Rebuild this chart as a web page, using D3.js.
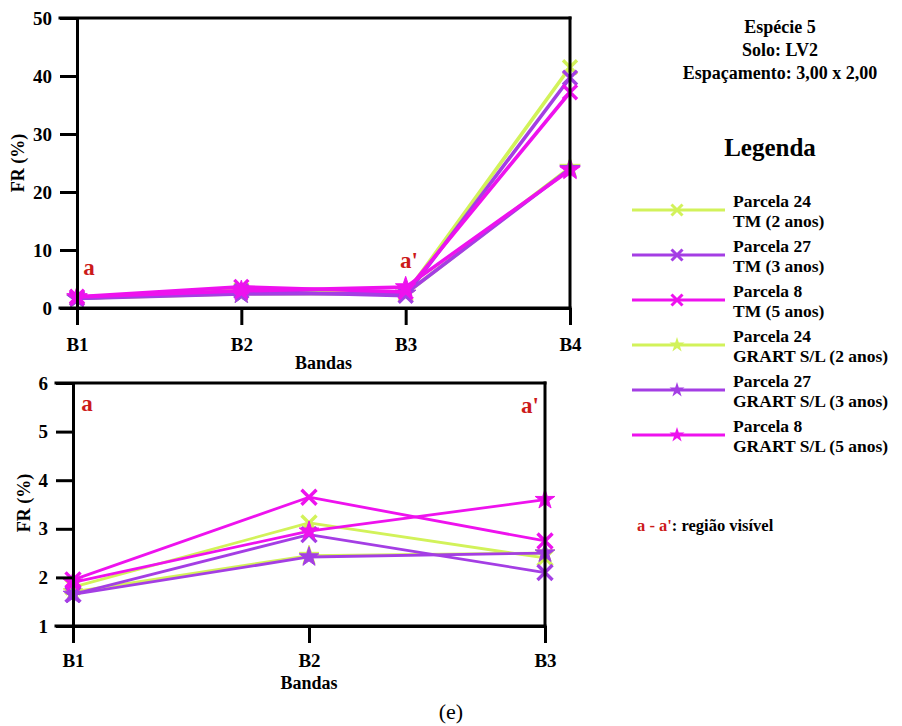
<!DOCTYPE html>
<html>
<head>
<meta charset="utf-8">
<script src="https://cdn.jsdelivr.net/npm/d3@7"></script>
<style>
  html, body { margin: 0; padding: 0; background: #fff; }
  svg { display: block; }
  text { font-family: "Liberation Serif", "Times New Roman", serif; }
</style>
</head>
<body>
<svg id="chart" width="902" height="726"></svg>
<script>
// ---------- data ----------
const bandsTop = ["B1", "B2", "B3", "B4"];
const bandsBottom = ["B1", "B2", "B3"];
const yTicksTop = [0, 10, 20, 30, 40, 50];
const yTicksBottom = [1, 2, 3, 4, 5, 6];

const seriesNames = ["Parcela 24", "Parcela 27", "Parcela 8", "Parcela 24", "Parcela 27", "Parcela 8"];
const seriesSub = ["TM (2 anos)", "TM (3 anos)", "TM (5 anos)", "GRART S/L (2 anos)", "GRART S/L (3 anos)", "GRART S/L (5 anos)"];
const seriesMarker = ["x", "x", "x", "star", "star", "star"];
const seriesColor = ["#d2f25a", "#a43ee4", "#ee12ee", "#d2f25a", "#a43ee4", "#ee12ee"];

const p24TM = [1.80, 3.12, 2.40, 41.5];
const p27TM = [1.65, 2.88, 2.10, 39.7];
const p8TM  = [1.95, 3.65, 2.75, 37.2];
const p24GR = [1.70, 2.45, 2.50, 24.2];
const p27GR = [1.65, 2.42, 2.50, 24.0];
const p8GR  = [1.90, 2.95, 3.60, 23.8];
const seriesValues = [p24TM, p27TM, p8TM, p24GR, p27GR, p8GR];
// drawing order: lime first, then purple, magenta on top
const drawOrder = [0, 3, 1, 4, 2, 5];

const infoLines = ["Espécie 5", "Solo: LV2", "Espaçamento: 3,00 x 2,00"];

// ---------- drawing ----------
const svg = d3.select("#chart");
const RED = "#cc1a1a";
const FONT = "Liberation Serif, Times New Roman, serif";

function markerPath(type, s) {
  if (type === "x") {
    return `M${-s},${-s}L${s},${s}M${-s},${s}L${s},${-s}`;
  }
  return d3.symbol().type(d3.symbolStar).size(s)();
}

function drawPanel(cfg) {
  const g = svg.append("g");
  const x = d3.scalePoint().domain(cfg.bands).range([cfg.x0, cfg.x1]);
  const y = d3.scaleLinear().domain(cfg.yDomain).range([cfg.yBottom, cfg.yTop]);
  const tick = 17;

  drawOrder.forEach(i => {
    const vals = seriesValues[i];
    const data = cfg.bands.map((b, j) => ({ b, v: vals[j] }));
    g.append("path")
      .datum(data)
      .attr("fill", "none")
      .attr("stroke", seriesColor[i])
      .attr("stroke-width", cfg.lineW)
      .attr("stroke-linejoin", "round")
      .attr("d", d3.line().x(d => x(d.b)).y(d => y(d.v)));
    const sel = g.selectAll(null).data(data).enter().append("path")
      .attr("transform", d => `translate(${x(d.b)},${y(d.v)})`);
    if (seriesMarker[i] === "x") {
      sel.attr("d", markerPath("x", cfg.xSize))
        .attr("fill", "none").attr("stroke", seriesColor[i]).attr("stroke-width", 3.4);
    } else {
      sel.attr("d", markerPath("star", cfg.starSize))
        .attr("fill", seriesColor[i]).attr("stroke", seriesColor[i]).attr("stroke-width", 1);
    }
  });

  // axes
  const yAxis = d3.axisLeft(y).tickValues(cfg.yTicks).tickFormat(d3.format("d"))
    .tickSize(tick).tickSizeOuter(0).tickPadding(8);
  const ya = g.append("g").attr("transform", `translate(${cfg.x0},0)`).call(yAxis);
  const xAxis = d3.axisBottom(x).tickSize(tick).tickSizeOuter(0).tickPadding(cfg.xPad);
  const xa = g.append("g").attr("transform", `translate(0,${cfg.yBottom})`).call(xAxis);
  [ya, xa].forEach(a => {
    a.attr("font-family", FONT);
    a.selectAll("line").attr("stroke", "#000").attr("stroke-width", 3);
    a.select(".domain").attr("stroke", "#000").attr("stroke-width", 3);
    a.selectAll("text").attr("font-size", 19).attr("font-weight", "bold")
      .attr("font-family", FONT).attr("fill", "#000");
  });
  // box: top, bottom extension, right
  const frame = [
    [cfg.x0 - tick, cfg.yTop, cfg.x1, cfg.yTop],
    [cfg.x0 - tick, cfg.yBottom, cfg.x1, cfg.yBottom],
    [cfg.x1, cfg.yTop, cfg.x1, cfg.yBottom]
  ];
  g.selectAll(null).data(frame).enter().append("line")
    .attr("x1", d => d[0]).attr("y1", d => d[1]).attr("x2", d => d[2]).attr("y2", d => d[3])
    .attr("stroke", "#000").attr("stroke-width", 3).attr("stroke-linecap", "square");

  // axis titles
  g.append("text").attr("x", (cfg.x0 + cfg.x1) / 2).attr("y", cfg.bandasY)
    .attr("text-anchor", "middle").attr("font-size", 18).attr("font-weight", "bold").text("Bandas");
  g.append("text").attr("transform", `translate(${cfg.frX},${cfg.frY}) rotate(-90)`)
    .attr("text-anchor", "middle").attr("font-size", 18).attr("font-weight", "bold").text("FR (%)");

  // region labels
  cfg.labels.forEach(l => {
    g.append("text").attr("x", l.x).attr("y", l.y).attr("text-anchor", "middle")
      .attr("font-size", 23).attr("font-weight", "bold").attr("fill", RED).text(l.t);
  });
}

drawPanel({
  bands: bandsTop, x0: 77, x1: 570, yTop: 18, yBottom: 308, yDomain: [0, 50], yTicks: yTicksTop,
  lineW: 3.6, xSize: 7, starSize: 130, xPad: 13, bandasY: 369, frX: 24, frY: 163,
  labels: [{ x: 89, y: 275, t: "a" }, { x: 409, y: 268, t: "a'" }]
});

drawPanel({
  bands: bandsBottom, x0: 73, x1: 545, yTop: 383, yBottom: 626, yDomain: [1, 6], yTicks: yTicksBottom,
  lineW: 2.8, xSize: 7.5, starSize: 120, xPad: 11, bandasY: 689, frX: 30, frY: 503,
  labels: [{ x: 87, y: 411, t: "a" }, { x: 530, y: 413, t: "a'" }]
});

// caption
svg.append("text").attr("x", 451).attr("y", 719).attr("text-anchor", "middle")
  .attr("font-size", 22).text("(e)");

// info block
svg.selectAll(null).data(infoLines).enter().append("text")
  .attr("x", 780).attr("y", (d, i) => 33 + i * 23)
  .attr("text-anchor", "middle").attr("font-size", 18).attr("font-weight", "bold").text(d => d);

svg.append("text").attr("x", 770).attr("y", 156).attr("text-anchor", "middle")
  .attr("font-size", 25).attr("font-weight", "bold").text("Legenda");

// legend
const legY = d3.scalePoint().domain(d3.range(seriesNames.length)).range([210, 435]);
const leg = svg.append("g");
seriesNames.forEach((name, i) => {
  const yy = legY(i);
  leg.append("line").attr("x1", 632).attr("x2", 725).attr("y1", yy).attr("y2", yy)
    .attr("stroke", seriesColor[i]).attr("stroke-width", 3);
  if (seriesMarker[i] === "x") {
    leg.append("path").attr("transform", `translate(677,${yy})`).attr("d", markerPath("x", 5.5))
      .attr("fill", "none").attr("stroke", seriesColor[i]).attr("stroke-width", 3);
  } else {
    leg.append("path").attr("transform", `translate(677,${yy})`).attr("d", markerPath("star", 70))
      .attr("fill", seriesColor[i]);
  }
  leg.append("text").attr("x", 733).attr("y", yy - 3).attr("font-size", 17.5).attr("font-weight", "bold").text(name);
  leg.append("text").attr("x", 733).attr("y", yy + 17).attr("font-size", 17.5).attr("font-weight", "bold").text(seriesSub[i]);
});

// region note
const note = svg.append("text").attr("x", 637).attr("y", 531).attr("font-size", 16.5).attr("font-weight", "bold");
note.append("tspan").attr("fill", RED).text("a - a'");
note.append("tspan").attr("fill", "#000").text(": região visível");
</script>
</body>
</html>
